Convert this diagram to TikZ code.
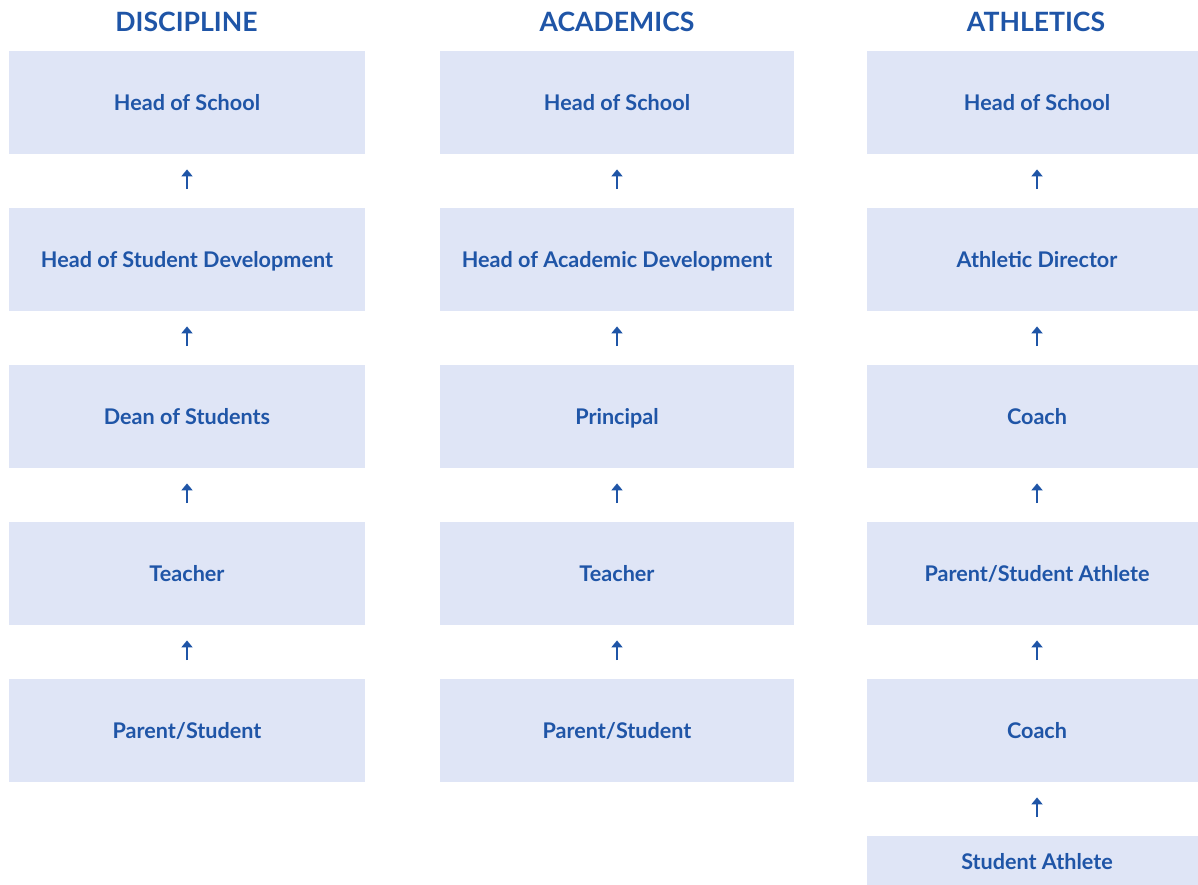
\documentclass[tikz,border=0pt]{standalone}
\usepackage{fontspec}
\setmainfont{Lato}
\usetikzlibrary{arrows.meta}
\definecolor{boxfill}{HTML}{DFE5F6}
\definecolor{txtblue}{HTML}{1F55A7}
\tikzset{
  lbl/.style={text=txtblue, font=\fontsize{21.6}{25}\selectfont\bfseries, text height=15.5pt, text depth=0pt},
  box/.style={lbl, fill=boxfill, draw=none, minimum height=103pt, inner sep=0pt, anchor=north},
  boxA/.style={box, minimum width=356pt},
  boxB/.style={box, minimum width=354pt},
  boxC/.style={box, minimum width=340pt},
  ttl/.style={text=txtblue, font=\fontsize{26.6}{31}\selectfont\bfseries, inner sep=0pt, text height=19pt, text depth=0pt},
  uparrow/.style={draw=txtblue, line width=2pt, -{Triangle[width=11pt,length=7pt]}, shorten <=19pt, shorten >=15pt},
}
\begin{document}
\begin{tikzpicture}[x=1pt,y=-1pt]
\useasboundingbox (0,0) rectangle (1198,884);
\clip (0,0) rectangle (1198,884);
\fill[white] (0,0) rectangle (1198,884);
% titles
\node[ttl] (t1) at (186.5,22) {DISCIPLINE};
\node[ttl] (t2) at (617,22) {ACADEMICS};
\node[ttl] (t3) at (1036,22) {ATHLETICS};
% column 1
\node[boxA] (a1) at (187,51) {Head of School};
\node[boxA] (a2) at (187,208) {Head of Student Development};
\node[boxA] (a3) at (187,365) {Dean of Students};
\node[boxA] (a4) at (187,522) {Teacher};
\node[boxA] (a5) at (187,679) {Parent/Student};
% column 2
\node[boxB] (b1) at (617,51) {Head of School};
\node[boxB] (b2) at (617,208) {Head of Academic Development};
\node[boxB] (b3) at (617,365) {Principal};
\node[boxB] (b4) at (617,522) {Teacher};
\node[boxB] (b5) at (617,679) {Parent/Student};
% column 3
\node[boxC] (c1) at (1037,51) {Head of School};
\node[boxC] (c2) at (1037,208) {Athletic Director};
\node[boxC] (c3) at (1037,365) {Coach};
\node[boxC] (c4) at (1037,522) {Parent/Student Athlete};
\node[boxC] (c5) at (1037,679) {Coach};
\node[boxC, minimum height=52pt] (c6) at (1037,836) {};
\node[lbl, inner sep=0pt] (c6t) at (1037,862) {Student Athlete};
% arrows
\foreach \c in {a,b,c}{
  \draw[uparrow] (\c2.north) -- (\c1.south);
  \draw[uparrow] (\c3.north) -- (\c2.south);
  \draw[uparrow] (\c4.north) -- (\c3.south);
  \draw[uparrow] (\c5.north) -- (\c4.south);
}
\draw[uparrow] (c6.north) -- (c5.south);
\end{tikzpicture}
\end{document}
